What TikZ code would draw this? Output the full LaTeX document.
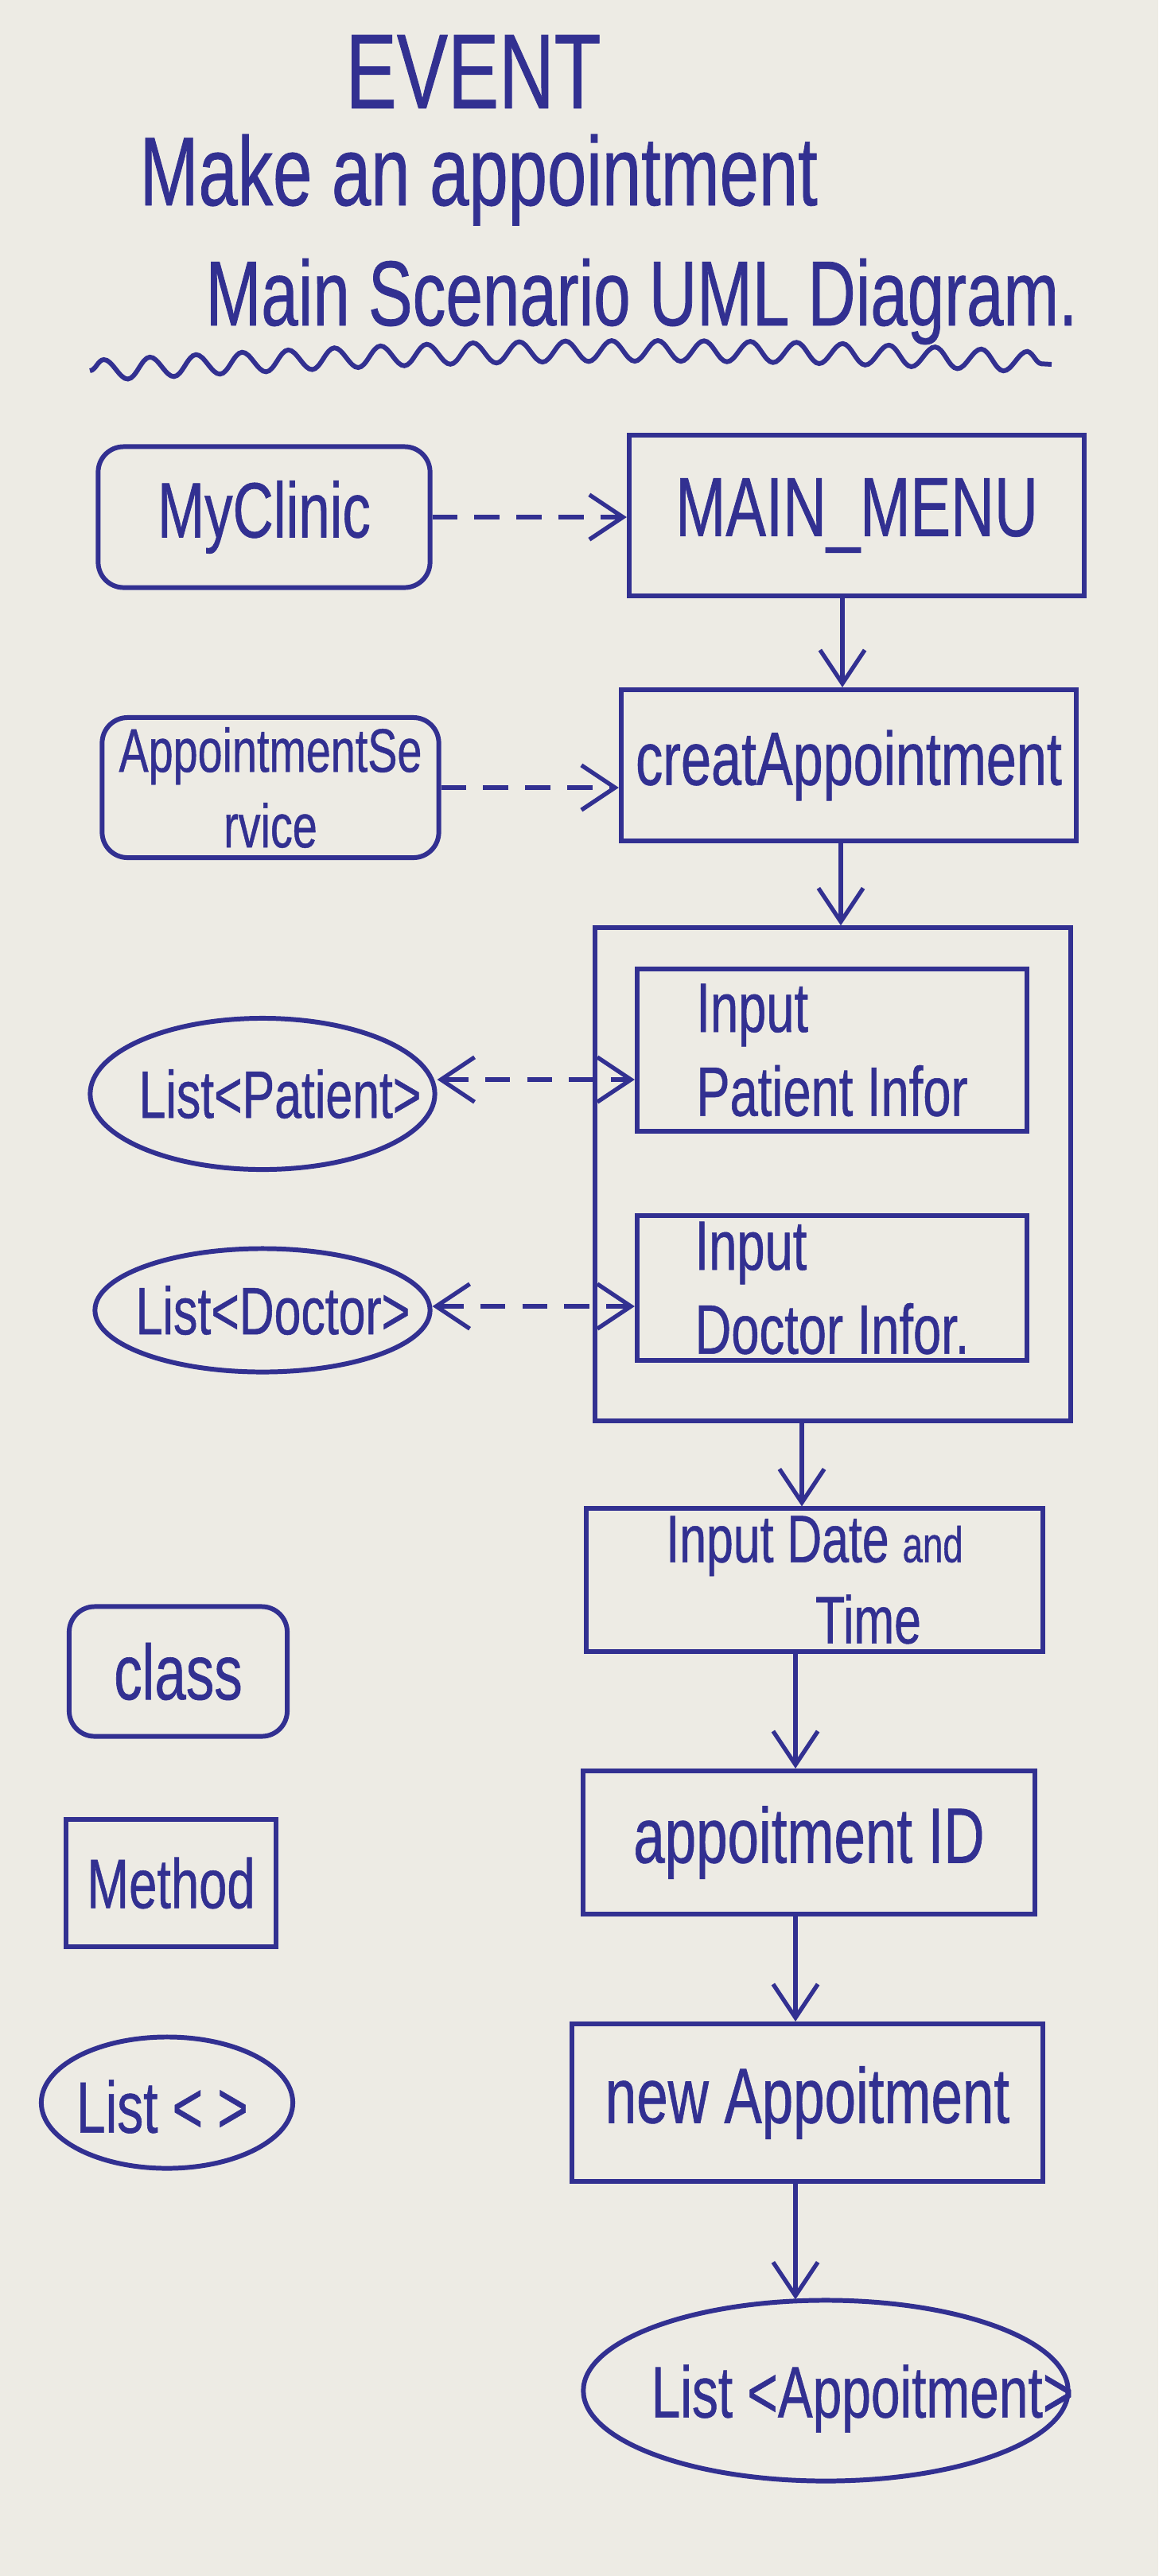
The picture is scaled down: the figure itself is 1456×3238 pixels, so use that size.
\documentclass[tikz,border=0pt]{standalone}
\usepackage{fontspec}
\setmainfont{Liberation Sans}[FakeStretch=0.72,FakeBold=0.6]
\usetikzlibrary{arrows.meta,shapes.geometric,decorations.pathmorphing,calc}
\definecolor{paper}{RGB}{237,235,228}
\definecolor{ink}{RGB}{50,48,145}
\newcommand{\fsz}[2]{\fontsize{#1}{#2}\selectfont}
\begin{document}
\begin{tikzpicture}[x=0.01cm,y=-0.01cm,
  txt/.style={text=ink, inner sep=0pt},
  box/.style={draw=ink, line width=1.7pt, inner sep=0pt, text=ink, align=center},
  cls/.style={box, rectangle, rounded corners=0.32cm},
  mth/.style={box, rectangle},
  lst/.style={draw=ink, line width=1.7pt, ellipse, inner sep=0pt},
  flow/.style={draw=ink, line width=1.5pt, -{Straight Barb[length=12pt,width=16pt,line width=1.5pt]}},
  dep/.style={flow, dash pattern=on 9pt off 6pt},
  dep2/.style={dep, {Straight Barb[length=12pt,width=16pt,line width=1.5pt]}-{Straight Barb[length=12pt,width=16pt,line width=1.5pt]}}
]
\useasboundingbox (0,0) rectangle (1456,3238);
\fill[paper] (0,0) rectangle (1456,3238);

% title
\node[txt, anchor=base west, font=\fsz{38}{40}] (ev) at (434,136) {EVENT};
\node[txt, anchor=base west, font=\fsz{35}{40}] (make) at (175,258) {Make an appointment};
\node[txt, anchor=base west, font=\fsz{33}{40}] (main) at (258,409) {Main Scenario UML Diagram.};
\draw[ink, line width=1.7pt, decorate, decoration={snake, segment length=0.58cm, amplitude=0.13cm}]
  (113,466) .. controls (500,445) and (800,428) .. (1322,458);

% classes and methods
\node[cls, minimum width=4.17cm, minimum height=1.77cm, font=\fsz{28}{32}] (myclinic) at (332,650) {MyClinic};
\node[mth, minimum width=5.72cm, minimum height=2.01cm, font=\fsz{30}{34}] (mainmenu) at (1077,648) {MAIN\_MENU};
\node[cls, minimum width=4.23cm, minimum height=1.76cm, font=\fsz{22}{27}] (apptsvc) at (340,990) {AppointmentSe\\rvice};
\node[mth, minimum width=5.72cm, minimum height=1.90cm, font=\fsz{27}{32}] (creat) at (1067,962) {creatAppointment};

\node[mth, minimum width=5.98cm, minimum height=6.19cm] (group) at (1047,1476) {};
\node[mth, align=left, minimum width=4.90cm, minimum height=2.03cm, font=\fsz{25}{30}] (patinfo) at (1046,1320) {Input\\Patient Infor};
\node[mth, align=left, minimum width=4.90cm, minimum height=1.82cm, font=\fsz{25}{30}] (docinfo) at (1046,1619) {Input\\Doctor Infor.};

\node[lst, minimum width=4.33cm, minimum height=1.90cm] (listpat) at (330,1375) {};
\node[txt, font=\fsz{24}{28}] (listpatt) at (352,1375) {List<Patient>};
\node[lst, minimum width=4.21cm, minimum height=1.55cm] (listdoc) at (330,1647) {};
\node[txt, font=\fsz{24}{28}] (listdoct) at (343,1647) {List<Doctor>};

\node[mth, minimum width=5.74cm, minimum height=1.79cm, font=\fsz{24}{29}] (datetime) at (1024,1986) {Input Date {\fsz{18}{20}and}\\\hspace*{1.6em}Time};
\node[mth, minimum width=5.68cm, minimum height=1.80cm, font=\fsz{28}{32}] (apptid) at (1017,2316) {appoitment ID};
\node[mth, minimum width=5.92cm, minimum height=1.98cm, font=\fsz{28}{32}] (newappt) at (1015,2643) {new Appoitment};
\node[lst, minimum width=6.09cm, minimum height=2.27cm] (listappt) at (1038,3005) {};
\node[txt, font=\fsz{26}{30}] (listapptt) at (1084,3015) {List <Appoitment>};

% legend
\node[cls, minimum width=2.74cm, minimum height=1.63cm, font=\fsz{28}{32}] (lgclass) at (224,2101) {class};
\node[mth, minimum width=2.64cm, minimum height=1.59cm, font=\fsz{25}{30}] (lgmethod) at (215,2367) {Method};
\node[lst, minimum width=3.16cm, minimum height=1.65cm] (lglist) at (210,2643) {};
\node[txt, font=\fsz{26}{30}] (lglistt) at (204,2648) {List < >};

% connectors
\draw[dep] (myclinic.east) -- (myclinic.east -| mainmenu.west);
\draw[dep] (apptsvc.east) -- (apptsvc.east -| creat.west);
\draw[dep2] ($(listpat.east)+(0,-18)$) -- ($(listpat.east -| patinfo.west)+(0,-18)$);
\draw[dep2] ($(listdoc.east)+(0,-5)$) -- ($(listdoc.east -| docinfo.west)+(0,-5)$);

\draw[flow] ($(mainmenu.south)+(-18,0)$) -- ($(mainmenu.south |- creat.north)+(-18,0)$);
\draw[flow] ($(creat.south)+(-10,0)$) -- ($(creat.south |- group.north)+(-10,0)$);
\draw[flow] ($(datetime.north |- group.south)+(-16,0)$) -- ($(datetime.north)+(-16,0)$);
\draw[flow] ($(apptid.north |- datetime.south)+(-17,0)$) -- ($(apptid.north)+(-17,0)$);
\draw[flow] ($(apptid.south)+(-17,0)$) -- ($(apptid.south |- newappt.north)+(-17,0)$);
\draw[flow] ($(newappt.south)+(-15,0)$) -- ($(newappt.south |- listappt.north)+(-15,2)$);
\end{tikzpicture}
\end{document}
